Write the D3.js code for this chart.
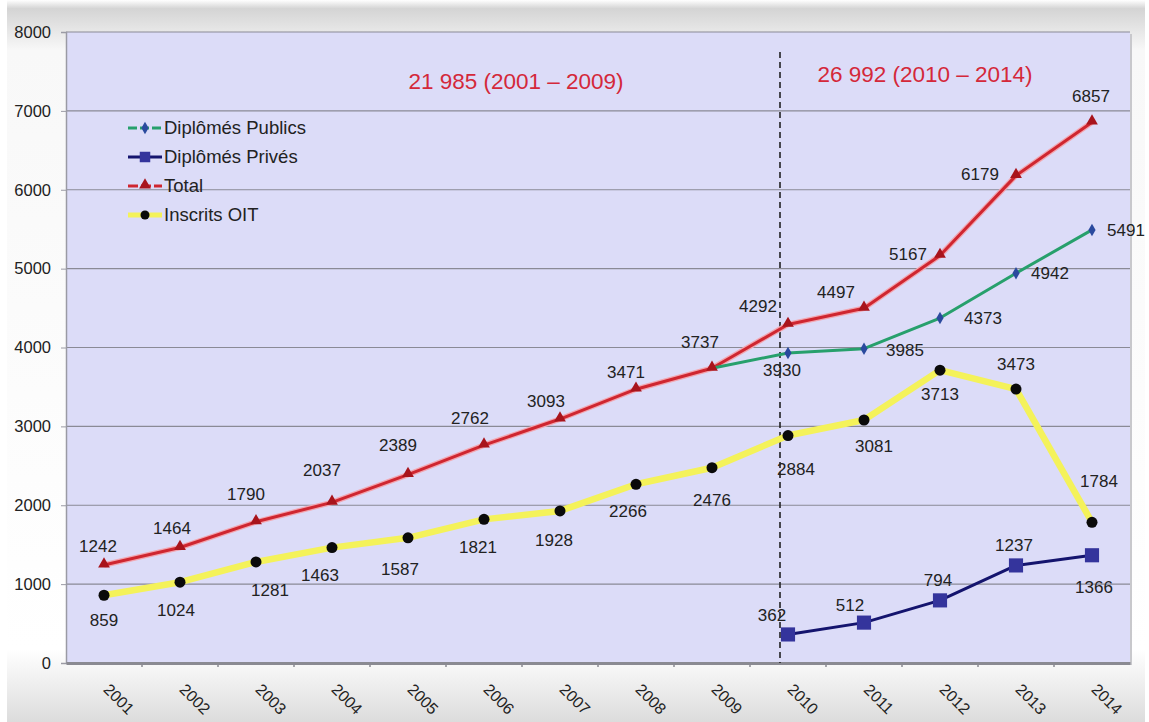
<!DOCTYPE html>
<html>
<head>
<meta charset="utf-8">
<script src="https://cdn.jsdelivr.net/npm/d3@7"></script>
<style>
body { margin: 0; padding: 0; overflow: hidden; }
svg { display: block; font-family: Arial, "Liberation Sans", sans-serif; }
</style>
</head>
<body>
<script>
// data
var years = ["2001","2002","2003","2004","2005","2006","2007","2008","2009","2010","2011","2012","2013","2014"];
var total = [1242,1464,1790,2037,2389,2762,3093,3471,3737,4292,4497,5167,6179,6857];
var inscritsOIT = [859,1024,1281,1463,1587,1821,1928,2266,2476,2884,3081,3713,3473,1784];
var publicsYears = ["2009","2010","2011","2012","2013","2014"];
var publics = [3737,3930,3985,4373,4942,5491];
var privesYears = ["2010","2011","2012","2013","2014"];
var prives = [362,512,794,1237,1366];
var yTicks = [0,1000,2000,3000,4000,5000,6000,7000,8000];
var legendNames = ["Diplômés Publics","Diplômés Privés","Total","Inscrits OIT"];
var periodLabels = ["21 985 (2001 – 2009)","26 992 (2010 – 2014)"];

// label offsets (dx, dy) relative to each point
var totalOff = [[-6,-19],[-8,-19],[-10,-28],[-10,-32],[-10,-30],[-14,-27],[-14,-18],[-10,-17],[-12,-26],[-30,-18],[-28,-16],[-32,-1],[-36,-2],[-1,-26]];
var oitOff = [[0,25],[-4,28],[14,28],[-12,27],[-8,31],[-6,28],[-6,29],[-8,27],[0,32],[8,34],[10,26],[0,24],[0,-25],[7,-41]];
var pubOff = [null,[-6,17],[41,1],[43,0],[34,0],[34,0]];
var privOff = [[-16,-19],[-14,-18],[-2,-20],[-2,-20],[2,32]];

var W = 1149, H = 722;
var svg = d3.select("body").append("svg").attr("width", W).attr("height", H);
var defs = svg.append("defs");

var bg = defs.append("linearGradient").attr("id","bg").attr("x1",0).attr("y1",0).attr("x2",0).attr("y2",1);
bg.append("stop").attr("offset","0%").attr("stop-color","#ffffff");
bg.append("stop").attr("offset","1.2%").attr("stop-color","#d4d4d4");
bg.append("stop").attr("offset","7%").attr("stop-color","#f8f8f8");
bg.append("stop").attr("offset","90%").attr("stop-color","#ffffff");
bg.append("stop").attr("offset","100%").attr("stop-color","#dcdcdc");

svg.append("rect").attr("x",0).attr("y",0).attr("width",W).attr("height",H).attr("fill","url(#bg)");
svg.append("rect").attr("x",0).attr("y",0).attr("width",7).attr("height",H).attr("fill","#fff");
svg.append("rect").attr("x",W-4).attr("y",0).attr("width",4).attr("height",H).attr("fill","#fff");

var pLeft = 66, pRight = 1130, pTop = 32, pBottom = 663;

var x = d3.scaleBand().domain(years).range([pLeft, pRight]);
var cx = function(d){ return x(d) + x.bandwidth()/2; };
var y = d3.scaleLinear().domain([0, 8000]).range([pBottom, pTop]);

// plot area with soft shadow
svg.append("rect").attr("x",pLeft+2).attr("y",pTop+2).attr("width",pRight-pLeft).attr("height",pBottom-pTop).attr("fill","#c8c8cc");
svg.append("rect").attr("x",pLeft).attr("y",pTop).attr("width",pRight-pLeft).attr("height",pBottom-pTop).attr("fill","#dcdcf8");

// gridlines
svg.append("g").selectAll("line").data(yTicks.slice(1)).enter().append("line")
  .attr("x1", pLeft).attr("x2", pRight)
  .attr("y1", function(d){ return y(d); }).attr("y2", function(d){ return y(d); })
  .attr("stroke", "#8a8a96").attr("stroke-width", 1.2);

// y axis
var yAxis = svg.append("g").attr("transform","translate(" + pLeft + ",0)")
  .call(d3.axisLeft(y).tickValues(yTicks).tickSize(5).tickPadding(10).tickFormat(d3.format("d")));
yAxis.select(".domain").attr("stroke","#9a9aa4").attr("stroke-width",1.5);
yAxis.selectAll(".tick line").attr("stroke","#9a9aa4");
yAxis.selectAll("text").attr("font-size",16.5).attr("fill","#222");

// x axis
var xAxis = svg.append("g").attr("transform","translate(0," + pBottom + ")")
  .call(d3.axisBottom(x).tickSize(0).tickPadding(0));
xAxis.select(".domain").attr("stroke","#8a8a92").attr("stroke-width",3);
xAxis.selectAll(".tick text").attr("font-size",16).attr("fill","#222")
  .attr("text-anchor","middle").attr("dy",0)
  .attr("transform","translate(11,40) rotate(45)");
svg.append("g").selectAll("line").data(years.slice(1)).enter().append("line")
  .attr("x1", function(d){ return x(d); }).attr("x2", function(d){ return x(d); })
  .attr("y1", pBottom).attr("y2", pBottom+4).attr("stroke","#8a8a92").attr("stroke-width",1.5);

// dashed separator
svg.append("line").attr("x1", cx("2010")-8).attr("x2", cx("2010")-8)
  .attr("y1", 52).attr("y2", pBottom)
  .attr("stroke","#222").attr("stroke-width",1.6).attr("stroke-dasharray","6,4");

// period labels
svg.append("text").attr("x", 516).attr("y", 89).attr("text-anchor","middle")
  .attr("font-size",22.5).attr("fill","#d4283a").text(periodLabels[0]);
svg.append("text").attr("x", 925).attr("y", 82).attr("text-anchor","middle")
  .attr("font-size",22.5).attr("fill","#d4283a").text(periodLabels[1]);

var line = d3.line().x(function(d){ return cx(d[0]); }).y(function(d){ return y(d[1]); });
var zipped = function(xs, vs){ return xs.map(function(k,i){ return [k, vs[i]]; }); };

var oitData = zipped(years, inscritsOIT);
var totData = zipped(years, total);
var pubData = zipped(publicsYears, publics);
var privData = zipped(privesYears, prives);

// OIT yellow
svg.append("path").datum(oitData).attr("d", line).attr("fill","none")
  .attr("stroke","#f4f25a").attr("stroke-width",6.5).attr("stroke-linejoin","round");
// total red (with light halo)
svg.append("path").datum(totData).attr("d", line).attr("fill","none")
  .attr("stroke","#f2a6b0").attr("stroke-width",5.5).attr("stroke-linejoin","round");
svg.append("path").datum(totData).attr("d", line).attr("fill","none")
  .attr("stroke","#cf2630").attr("stroke-width",3).attr("stroke-linejoin","round");
// publics green
svg.append("path").datum(pubData).attr("d", line).attr("fill","none")
  .attr("stroke","#27a06c").attr("stroke-width",3).attr("stroke-linejoin","round");
// prives navy
svg.append("path").datum(privData).attr("d", line).attr("fill","none")
  .attr("stroke","#14146e").attr("stroke-width",3).attr("stroke-linejoin","round");

// markers
var tri = d3.symbol().type(d3.symbolTriangle).size(60);
var dia = d3.symbol().type(d3.symbolDiamond).size(45);
var sq = d3.symbol().type(d3.symbolSquare).size(200);

svg.append("g").selectAll("circle").data(oitData).enter().append("circle")
  .attr("cx", function(d){ return cx(d[0]); }).attr("cy", function(d){ return y(d[1]); })
  .attr("r", 5.5).attr("fill","#0a0a0a");
svg.append("g").selectAll("path").data(totData).enter().append("path")
  .attr("d", tri).attr("fill","#a8141c")
  .attr("transform", function(d){ return "translate(" + cx(d[0]) + "," + (y(d[1])-1) + ")"; });
svg.append("g").selectAll("path").data(pubData.slice(1)).enter().append("path")
  .attr("d", dia).attr("fill","#2a4a9e")
  .attr("transform", function(d){ return "translate(" + cx(d[0]) + "," + y(d[1]) + ")"; });
svg.append("g").selectAll("path").data(privData).enter().append("path")
  .attr("d", sq).attr("fill","#34349c")
  .attr("transform", function(d){ return "translate(" + cx(d[0]) + "," + y(d[1]) + ")"; });

// data labels
function labels(data, off){
  var rows = data.map(function(d, i){ return {k: d[0], v: d[1], o: off[i]}; })
    .filter(function(r){ return r.o != null; });
  svg.append("g").selectAll("text").data(rows).enter().append("text")
    .attr("x", function(r){ return cx(r.k) + r.o[0]; })
    .attr("y", function(r){ return y(r.v) + r.o[1]; })
    .attr("dy","0.35em").attr("text-anchor","middle")
    .attr("font-size",17).attr("fill","#222")
    .text(function(r){ return r.v; });
}
labels(totData, totalOff);
labels(oitData, oitOff);
labels(pubData, pubOff);
labels(privData, privOff);

// legend
var lg = svg.append("g").attr("transform","translate(128,128)");
var rowH = 29;
legendNames.forEach(function(name, i){
  var g = lg.append("g").attr("transform","translate(0," + (i*rowH) + ")");
  if (i === 0) {
    g.append("line").attr("x1",0).attr("x2",34).attr("stroke","#27a06c").attr("stroke-width",3).attr("stroke-dasharray","9,3");
    g.append("path").attr("d", dia).attr("fill","#2a4a9e").attr("transform","translate(17,0)");
  } else if (i === 1) {
    g.append("line").attr("x1",0).attr("x2",34).attr("stroke","#14146e").attr("stroke-width",3);
    g.append("path").attr("d", d3.symbol().type(d3.symbolSquare).size(110)).attr("fill","#34349c").attr("transform","translate(17,0)");
  } else if (i === 2) {
    g.append("line").attr("x1",0).attr("x2",34).attr("stroke","#cf2630").attr("stroke-width",3).attr("stroke-dasharray","10,3");
    g.append("path").attr("d", tri).attr("fill","#a8141c").attr("transform","translate(17,-1)");
  } else {
    g.append("line").attr("x1",0).attr("x2",34).attr("stroke","#f4f25a").attr("stroke-width",5);
    g.append("circle").attr("cx",17).attr("r",4.5).attr("fill","#0a0a0a");
  }
  g.append("text").attr("x",36).attr("dy","0.35em").attr("font-size",18.5).attr("fill","#222").text(name);
});
</script>
</body>
</html>
